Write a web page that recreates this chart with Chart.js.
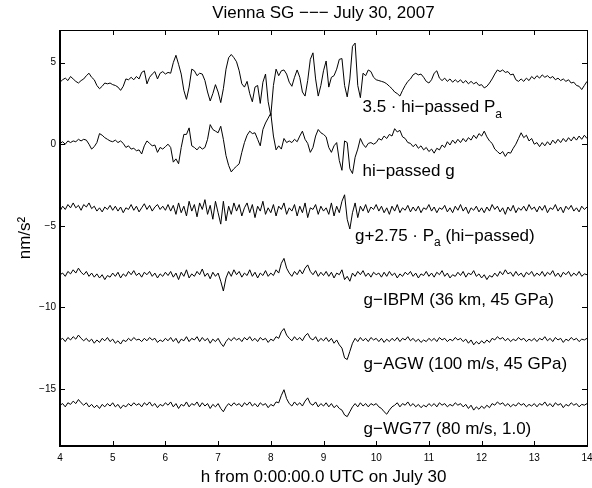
<!DOCTYPE html>
<html><head><meta charset="utf-8">
<script src="https://cdn.jsdelivr.net/npm/chart.js@4.4.0/dist/chart.umd.min.js"></script>
<style>html,body{margin:0;padding:0;background:#fff}</style>
</head><body>
<canvas id="c" width="592" height="488"></canvas>
<script>
// time grid: hours from 0:00 UTC, sampled every 0.05 h from 4 to 14
const T_START = 4, T_STEP = 0.05;

// 3.5 * hi-passed air pressure (offset trace near +4)
const hiPassedPa = [
3.8,3.95,4.05,3.9,4.15,4.0,3.85,3.75,3.9,4.0,4.2,4.35,4.1,3.95,3.6,3.4,3.55,3.75,3.7,3.75,
3.65,3.6,3.5,3.3,3.55,4.0,3.95,4.1,3.95,4.15,4.0,4.4,4.5,3.7,4.1,4.3,4.45,4.0,4.35,4.45,
4.3,4.4,4.35,5.0,5.45,4.9,4.3,3.3,2.75,3.5,4.6,4.5,4.2,4.35,4.3,3.9,3.2,2.65,3.1,3.65,
3.2,2.55,3.4,4.6,5.3,5.5,5.3,5.05,4.5,3.7,3.5,3.85,3.1,2.6,3.5,3.6,2.5,3.8,4.3,2.6,
1.75,3.6,4.6,4.2,4.5,4.55,4.3,3.8,3.55,4.1,4.55,4.1,3.2,2.95,3.9,5.2,5.6,4.0,2.95,3.6,
4.5,5.1,3.5,4.1,4.2,4.6,5.2,5.25,3.6,2.9,4.0,6.0,6.2,3.6,2.85,4.35,4.2,4.55,4.45,4.1,
3.95,3.9,3.85,3.8,3.7,3.55,3.4,3.2,3.1,2.95,3.3,3.6,3.85,4.0,4.25,4.35,4.25,4.3,4.1,3.85,
3.75,3.95,4.35,4.5,4.05,3.9,4.05,3.85,4.0,3.8,3.95,3.8,3.95,3.75,3.9,3.7,3.85,3.7,3.8,3.6,
3.65,3.45,3.55,3.75,4.0,4.3,4.55,4.45,4.55,4.4,4.45,4.25,4.3,3.95,3.85,4.0,3.85,4.05,3.9,4.15,
4.0,4.2,4.05,4.25,4.1,4.2,4.05,4.15,3.95,4.05,3.9,4.0,3.85,3.95,3.75,3.8,3.6,3.55,3.35,3.6,
3.85];

// hi-passed gravity (trace near 0)
const hiPassedG = [
0.05,0.15,0.0,0.2,0.1,0.2,0.15,0.3,0.2,0.3,0.25,0.0,-0.3,-0.15,0.1,0.65,0.55,0.4,0.3,0.2,
0.15,0.25,0.1,0.2,0.05,-0.2,-0.1,-0.3,-0.25,-0.4,-0.35,-0.6,-0.1,0.2,0.05,-0.1,-0.05,-0.5,-0.2,-0.3,
-0.15,0.0,-0.2,-1.1,-0.9,-1.2,-0.2,0.6,0.6,1.0,-0.1,-0.2,-0.35,-0.15,-0.3,-0.2,0.3,1.2,0.9,0.8,
0.7,1.1,0.3,-0.7,-1.3,-1.7,-1.5,-1.35,-1.2,-0.5,0.1,0.55,0.8,0.65,0.7,0.3,-0.1,0.9,1.3,1.6,
1.9,0.5,-0.35,-0.1,-0.3,0.35,0.1,0.2,0.1,0.3,0.15,0.5,0.8,0.3,0.05,-0.5,-0.2,0.5,0.9,0.7,
0.6,0.45,-0.2,-0.5,-0.1,0.1,-1.0,-1.6,0.2,0.1,-1.5,-1.8,-0.8,-0.3,0.35,0.0,-0.2,0.05,0.1,0.0,
0.1,0.35,0.25,0.5,0.35,0.6,0.5,0.95,0.75,0.85,0.45,0.35,0.1,0.05,-0.15,0.0,-0.25,-0.1,-0.35,-0.2,
-0.45,-0.3,-0.55,-0.25,-0.35,-0.05,-0.2,0.15,-0.05,0.25,0.05,0.3,0.1,0.35,0.15,0.4,0.25,0.55,0.35,0.65,
0.5,0.8,0.45,0.2,0.05,-0.3,-0.45,-0.6,-0.45,-0.75,-0.5,-0.55,-0.25,0.0,0.35,0.7,0.4,0.55,0.2,0.35,
0.0,0.1,-0.15,0.1,-0.1,0.15,-0.05,0.25,0.05,0.3,0.1,0.35,0.15,0.4,0.2,0.45,0.25,0.5,0.3,0.55,
0.35];

// g + 2.75 * Pa (trace near -4)
const gPlusPa = [
-4.1,-3.8,-4.0,-3.7,-3.9,-3.6,-3.9,-3.75,-4.05,-3.7,-3.85,-3.6,-3.95,-3.8,-4.1,-3.9,-4.15,-3.85,-4.0,-3.75,-4.05,
-3.8,-4.1,-3.85,-4.2,-3.9,-4.0,-3.7,-4.05,-3.8,-4.15,-3.9,-3.65,-4.0,-3.75,-4.1,-3.85,-3.7,-4.0,-3.8,-4.05,
-3.7,-4.1,-3.75,-4.3,-3.6,-4.2,-3.8,-4.4,-3.5,-4.1,-3.7,-4.45,-3.6,-4.0,-3.4,-4.3,-3.75,-4.6,-3.5,-4.2,
-4.9,-3.5,-4.7,-3.8,-4.3,-3.6,-4.1,-3.7,-4.4,-3.9,-3.6,-4.2,-3.7,-4.5,-3.8,-4.1,-3.5,-4.3,-3.9,-4.2,
-3.7,-4.4,-3.8,-4.0,-3.6,-4.3,-3.9,-4.1,-3.7,-4.4,-3.8,-4.2,-3.6,-4.5,-3.9,-4.0,-3.7,-4.3,-3.8,-4.1,
-3.9,-4.3,-3.6,-4.4,-3.8,-4.2,-3.5,-3.1,-4.6,-5.2,-4.2,-3.6,-4.5,-3.8,-4.1,-3.7,-4.2,-3.85,-4.0,-3.7,
-4.1,-3.8,-4.2,-3.9,-4.3,-3.8,-4.1,-3.7,-4.2,-3.9,-4.05,-3.75,-4.15,-3.85,-4.1,-3.8,-4.2,-3.9,-4.0,-3.7,
-4.1,-3.85,-4.2,-3.9,-4.0,-3.75,-4.15,-3.9,-4.2,-3.8,-4.05,-3.7,-4.1,-3.85,-4.25,-3.9,-4.05,-3.8,-4.15,-3.9,
-4.2,-3.85,-4.1,-3.7,-4.0,-3.8,-4.15,-3.9,-4.3,-3.85,-4.1,-3.75,-4.2,-3.9,-4.05,-3.8,-4.1,-3.7,-4.0,-3.85,
-4.15,-3.8,-4.05,-3.75,-4.2,-3.9,-4.0,-3.7,-4.1,-3.85,-4.2,-3.8,-4.0,-3.75,-4.1,-3.9,-4.15,-3.8,-4.0,-3.85];

// g - IBPM (trace near -8)
const gMinusIBPM = [
-8.0,-7.9,-8.1,-7.8,-7.95,-7.7,-7.9,-7.6,-7.85,-8.0,-7.8,-8.1,-7.9,-8.15,-7.95,-8.2,-8.0,-8.3,-8.05,-8.15,-7.9,
-8.1,-7.85,-8.2,-7.95,-8.1,-7.8,-8.0,-7.75,-8.05,-7.9,-8.15,-7.85,-8.0,-7.8,-8.1,-7.9,-8.2,-7.95,-8.1,-7.85,
-8.05,-7.8,-8.15,-7.9,-8.3,-7.85,-8.1,-7.7,-8.2,-7.95,-8.1,-7.8,-8.0,-7.65,-8.1,-7.9,-8.25,-7.85,-8.1,-7.9,
-8.4,-9.0,-8.2,-7.8,-8.1,-7.7,-8.0,-7.8,-8.15,-7.9,-8.05,-7.7,-8.1,-7.85,-8.2,-7.9,-8.05,-7.75,-8.1,-7.9,
-8.05,-7.7,-7.9,-7.3,-7.0,-7.6,-7.9,-8.1,-7.8,-8.0,-7.7,-7.95,-7.6,-7.4,-7.8,-8.0,-7.75,-8.1,-7.85,-8.05,
-7.8,-8.1,-7.85,-8.2,-7.9,-8.0,-7.7,-8.3,-8.1,-8.4,-7.9,-8.1,-7.8,-8.0,-7.75,-8.1,-7.9,-8.15,-7.85,-8.0,
-7.9,-8.15,-7.85,-8.1,-7.8,-8.05,-7.9,-8.2,-7.95,-8.1,-7.85,-8.0,-7.8,-8.1,-7.9,-8.2,-7.95,-8.05,-7.8,-8.1,
-7.9,-8.15,-7.85,-8.0,-7.75,-8.1,-7.9,-8.2,-8.0,-8.1,-7.85,-8.05,-7.8,-8.15,-7.9,-8.0,-7.75,-8.1,-7.95,-8.2,
-8.0,-8.3,-8.05,-8.15,-7.9,-8.1,-7.8,-8.0,-7.7,-7.95,-7.85,-8.1,-7.8,-8.05,-7.9,-8.15,-7.85,-8.0,-7.8,-8.1,
-7.9,-8.05,-7.8,-8.1,-7.85,-8.0,-7.75,-8.1,-7.9,-8.15,-7.85,-8.0,-7.8,-8.1,-7.9,-8.05,-7.8,-8.1,-7.95,-8.0];

// g - AGW (trace near -12)
const gMinusAGW = [
-12.0,-11.9,-12.1,-11.85,-12.0,-11.8,-11.95,-11.7,-11.9,-12.05,-11.9,-12.1,-11.95,-12.2,-12.0,-12.15,-11.9,-12.05,-11.85,-12.1,-11.95,
-12.2,-12.05,-12.25,-12.0,-12.1,-11.9,-12.05,-11.85,-12.0,-11.95,-12.1,-11.9,-12.05,-11.85,-12.0,-11.9,-12.15,-12.0,-12.1,-11.9,
-12.05,-11.85,-12.1,-11.9,-12.2,-11.95,-12.05,-11.8,-12.1,-11.9,-12.0,-11.8,-12.1,-11.85,-12.05,-11.9,-12.2,-11.95,-12.1,-11.9,
-12.2,-12.4,-12.1,-11.9,-12.05,-11.85,-12.0,-11.9,-12.1,-11.85,-12.0,-11.8,-12.05,-11.9,-12.1,-11.85,-12.0,-11.9,-12.15,-11.95,
-12.05,-11.8,-11.9,-11.5,-11.3,-11.7,-11.9,-12.05,-11.8,-12.0,-11.85,-12.05,-11.75,-11.6,-11.9,-12.0,-11.8,-12.1,-11.9,-12.05,
-11.85,-12.1,-11.9,-12.2,-12.0,-12.3,-12.5,-13.1,-13.2,-12.7,-12.2,-11.9,-12.1,-11.85,-12.05,-11.9,-12.1,-11.85,-12.0,-11.9,
-12.1,-11.9,-12.15,-11.95,-12.1,-11.9,-12.05,-11.85,-12.1,-11.9,-12.0,-11.8,-12.05,-11.9,-12.1,-11.95,-12.15,-12.0,-12.1,-11.9,
-12.05,-11.9,-12.1,-11.85,-12.0,-11.9,-12.1,-11.95,-12.05,-11.85,-12.0,-11.9,-12.1,-11.95,-12.2,-12.0,-12.3,-12.1,-12.25,-12.05,
-12.2,-12.0,-12.15,-11.9,-12.0,-11.8,-11.95,-11.85,-12.05,-11.9,-12.1,-11.95,-12.05,-11.85,-12.0,-11.9,-12.1,-11.95,-12.05,-11.9,
-12.1,-11.9,-12.0,-11.8,-12.05,-11.9,-12.1,-11.85,-12.0,-11.9,-12.15,-11.95,-12.05,-11.85,-12.0,-11.9,-12.1,-11.95,-12.0,-11.9];

// g - WG77 (trace near -16)
const gMinusWG77 = [
-16.0,-15.9,-16.1,-15.85,-15.95,-15.75,-15.9,-15.65,-15.85,-16.0,-15.85,-16.1,-15.95,-16.15,-16.0,-16.2,-15.95,-16.1,-15.9,-16.05,-15.85,
-16.1,-15.95,-16.2,-16.0,-16.1,-15.9,-16.05,-15.85,-16.0,-15.9,-16.1,-15.85,-16.0,-15.8,-16.05,-15.9,-16.15,-15.95,-16.05,-15.85,
-16.0,-15.8,-16.1,-15.9,-16.2,-15.95,-16.05,-15.8,-16.1,-15.9,-16.0,-15.8,-16.1,-15.85,-16.05,-15.9,-16.2,-15.95,-16.1,-15.9,
-16.2,-16.4,-16.1,-15.9,-16.05,-15.85,-16.0,-15.9,-16.1,-15.85,-16.0,-15.8,-16.05,-15.9,-16.1,-15.85,-16.0,-15.9,-16.15,-15.95,
-16.05,-15.8,-15.85,-15.4,-15.05,-15.6,-15.9,-16.05,-15.8,-16.0,-15.85,-16.05,-15.75,-15.55,-15.9,-16.0,-15.8,-16.1,-15.9,-16.05,
-15.85,-16.1,-15.9,-16.15,-16.0,-16.2,-16.3,-16.6,-16.7,-16.4,-16.1,-15.9,-16.1,-15.85,-16.05,-15.9,-16.1,-15.9,-16.0,-15.9,
-16.1,-16.2,-16.4,-16.55,-16.3,-16.1,-16.0,-15.85,-16.1,-15.9,-16.0,-15.8,-16.05,-15.9,-16.1,-15.95,-16.15,-16.0,-16.1,-15.9,
-16.05,-15.9,-16.1,-15.85,-16.0,-15.9,-16.1,-15.95,-16.05,-15.85,-16.0,-15.9,-16.1,-15.95,-16.2,-16.0,-16.3,-16.1,-16.25,-16.05,
-16.2,-16.0,-16.15,-15.9,-16.0,-15.8,-15.95,-15.85,-16.05,-15.9,-16.1,-15.95,-16.05,-15.85,-16.0,-15.9,-16.1,-15.95,-16.05,-15.9,
-16.1,-15.9,-16.0,-15.8,-16.05,-15.9,-16.1,-15.85,-16.0,-15.9,-16.15,-15.95,-16.05,-15.85,-16.0,-15.9,-16.1,-15.95,-16.0,-15.9];

const xTickValues = [4,5,6,7,8,9,10,11,12,13,14];
const yTickValues = [-15,-10,-5,0,5];
const chartTitle = 'Vienna SG \u2212\u2212\u2212 July 30, 2007';
const xAxisLabel = 'h from 0:00:00.0 UTC on July 30';
const yAxisLabel = 'nm/s\u00B2';

// trace captions: text parts, [text, isSubscript]
const captionParts = [
  [['3.5 \u00B7 hi\u2212passed P', 0], ['a', 1]],
  [['hi\u2212passed g', 0]],
  [['g+2.75 \u00B7 P', 0], ['a', 1], [' (hi\u2212passed)', 0]],
  [['g\u2212IBPM (36 km, 45 GPa)', 0]],
  [['g\u2212AGW (100 m/s, 45 GPa)', 0]],
  [['g\u2212WG77 (80 m/s, 1.0)', 0]]
];
const captionX = [9.74, 9.74, 9.6, 9.76, 9.76, 9.76];
const captionY = [2.24, -1.67, -5.62, -9.57, -13.52, -17.47];

const FONT = '"Liberation Sans", Arial, Helvetica, sans-serif';
const allSeries = [hiPassedPa, hiPassedG, gPlusPa, gMinusIBPM, gMinusAGW, gMinusWG77];

const datasets = allSeries.map(arr => ({
  data: arr.map((v, i) => ({x: +(T_START + T_STEP * i).toFixed(2), y: v})),
  borderColor: '#000', borderWidth: 1, pointRadius: 0, tension: 0, fill: false
}));

const matlabBox = {
  id: 'matlabBox',
  afterDraw(chart) {
    const {ctx, chartArea: a, scales: {x, y}} = chart;
    ctx.save();
    ctx.strokeStyle = '#000';
    ctx.lineWidth = 1;
    const L = 5;
    ctx.beginPath();
    x.ticks.forEach(t => {
      const px = Math.round(x.getPixelForValue(t.value)) + 0.5;
      ctx.moveTo(px, a.bottom); ctx.lineTo(px, a.bottom - L);
      ctx.moveTo(px, a.top); ctx.lineTo(px, a.top + L);
    });
    y.ticks.forEach(t => {
      const py = Math.round(y.getPixelForValue(t.value)) + 0.5;
      ctx.moveTo(a.left, py); ctx.lineTo(a.left + L, py);
      ctx.moveTo(a.right, py); ctx.lineTo(a.right - L, py);
    });
    ctx.stroke();
    ctx.beginPath();
    ctx.moveTo(a.left, a.top + 0.5); ctx.lineTo(a.right + 0.5, a.top + 0.5);
    ctx.lineTo(a.right + 0.5, a.bottom);
    ctx.stroke();
    ctx.lineWidth = 2;
    ctx.beginPath();
    ctx.moveTo(a.left, a.top); ctx.lineTo(a.left, a.bottom); ctx.lineTo(a.right + 1, a.bottom);
    ctx.stroke();
    // captions
    ctx.fillStyle = '#000';
    ctx.textBaseline = 'middle';
    ctx.textAlign = 'left';
    captionParts.forEach((parts, k) => {
      let px = x.getPixelForValue(captionX[k]);
      const py = y.getPixelForValue(captionY[k]);
      parts.forEach(([txt, sub]) => {
        ctx.font = (sub ? '12px ' : '17px ') + FONT;
        ctx.fillText(txt, px, sub ? py + 7 : py);
        px += ctx.measureText(txt).width;
      });
    });
    ctx.restore();
  }
};

new Chart(document.getElementById('c'), {
  type: 'line',
  data: {datasets},
  plugins: [matlabBox],
  options: {
    responsive: false, animation: false, devicePixelRatio: 1,
    layout: {padding: {left: 0, right: 5, top: 0, bottom: 0}},
    plugins: {
      legend: {display: false}, tooltip: {enabled: false},
      title: {display: true, fullSize: false, text: chartTitle, color: '#000',
        font: {family: FONT, size: 17, weight: 'normal'}, padding: {top: 3, bottom: 6.6}}
    },
    scales: {
      x: {
        type: 'linear', min: 4, max: 14,
        afterBuildTicks: s => { s.ticks = xTickValues.map(v => ({value: v})); },
        afterFit: s => { s.height = 42; s.paddingLeft = 0; s.paddingRight = 0; },
        grid: {display: false, drawTicks: false}, border: {display: false},
        ticks: {padding: 6, color: '#000', font: {family: FONT, size: 10}, maxRotation: 0, autoSkip: false},
        title: {display: true, text: xAxisLabel, color: '#000', font: {family: FONT, size: 17}, padding: {top: 0, bottom: 0}}
      },
      y: {
        type: 'linear', min: -18.5, max: 7,
        afterBuildTicks: s => { s.ticks = yTickValues.map(v => ({value: v})); },
        afterFit: s => { s.width = 60; s.paddingTop = 0; s.paddingBottom = 0; },
        grid: {display: false, drawTicks: false}, border: {display: false},
        ticks: {padding: 4, color: '#000', font: {family: FONT, size: 10},
          callback: v => (v < 0 ? '\u2212' + Math.abs(v) : String(v))},
        title: {display: true, text: yAxisLabel, color: '#000', font: {family: FONT, size: 17}, padding: {top: 15, bottom: 0}}
      }
    }
  }
});
</script>
</body></html>
